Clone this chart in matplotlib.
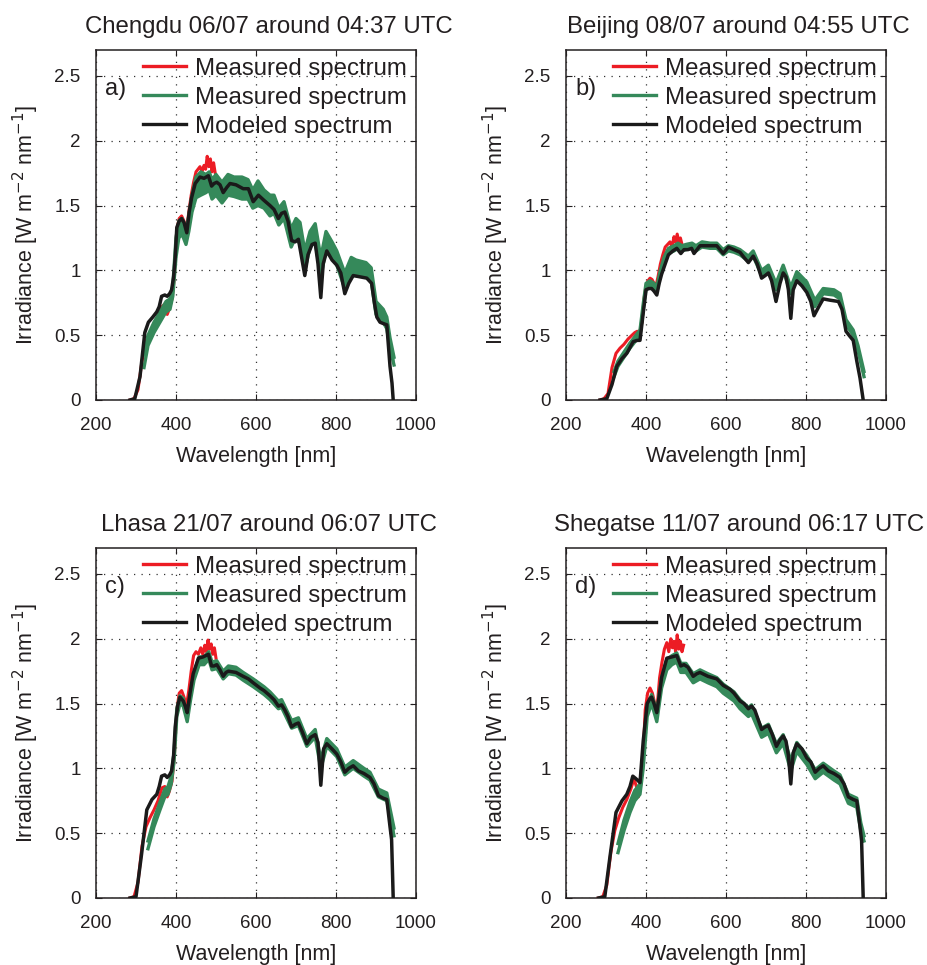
import matplotlib
matplotlib.use("Agg")
import matplotlib.pyplot as plt
from matplotlib.lines import Line2D

plt.rcParams['font.family'] = ['Liberation Sans', 'DejaVu Sans']
TXT = '#231f20'
plt.rcParams['text.color'] = TXT
plt.rcParams['axes.labelcolor'] = TXT
plt.rcParams['xtick.color'] = TXT
plt.rcParams['ytick.color'] = TXT

# ---------------- data ----------------
titles = ["Chengdu 06/07 around 04:37 UTC", "Beijing 08/07 around 04:55 UTC",
          "Lhasa 21/07 around 06:07 UTC", "Shegatse 11/07 around 06:17 UTC"]
panel_labels = ["a)", "b)", "c)", "d)"]
legend_labels = ["Measured spectrum", "Measured spectrum", "Modeled spectrum"]
xticks = [200, 400, 600, 800, 1000]
xtick_labels = ["200", "400", "600", "800", "1000"]
yticks = [0, 0.5, 1, 1.5, 2, 2.5]
ytick_labels = ["0", "0.5", "1", "1.5", "2", "2.5"]

# Panel a (Chengdu)
wl_a_mod = [285, 297, 310, 322, 331, 342, 352, 358, 364, 372, 378, 384, 389, 394, 398, 402, 408, 414, 420, 427,
            433, 439, 448, 460, 470, 481, 489, 495, 502, 510, 518, 527, 535, 550, 568, 581, 593, 606, 620, 635,
            645, 656, 664, 672, 680, 689, 698, 706, 714, 722, 730, 740, 748, 755, 762, 768, 777, 790, 802, 812,
            822, 832, 843, 860, 877, 889, 896, 902, 910, 918, 927, 935, 940, 943]
mod_a = [0, 0.01, 0.18, 0.52, 0.60, 0.64, 0.68, 0.72, 0.80, 0.81, 0.80, 0.82, 0.85, 0.95, 1.10, 1.33, 1.38, 1.40, 1.37, 1.29,
         1.45, 1.56, 1.67, 1.72, 1.71, 1.73, 1.65, 1.67, 1.68, 1.66, 1.60, 1.64, 1.67, 1.66, 1.63, 1.63, 1.53, 1.58, 1.54, 1.50,
         1.47, 1.40, 1.44, 1.45, 1.38, 1.23, 1.22, 1.24, 1.10, 0.96, 1.12, 1.20, 1.21, 1.05, 0.79, 1.05, 1.15, 1.08, 1.04, 0.98,
         0.82, 0.90, 0.96, 0.95, 0.94, 0.90, 0.75, 0.64, 0.60, 0.59, 0.58, 0.26, 0.13, 0]
wl_a_grn = [320, 330, 345, 360, 375, 385, 392, 400, 407, 415, 425, 432, 440, 450, 462, 475, 483, 490, 500, 515,
            530, 545, 565, 580, 592, 605, 620, 635, 645, 657, 670, 688, 700, 710, 722, 735, 748, 762, 775, 790,
            802, 822, 838, 850, 875, 888, 900, 918, 927, 935, 945]
grn_a_lo = [0.25, 0.42, 0.52, 0.60, 0.68, 0.70, 0.80, 1.10, 1.25, 1.28, 1.20, 1.30, 1.45, 1.56, 1.58, 1.60, 1.62, 1.55, 1.58, 1.52,
            1.58, 1.57, 1.55, 1.55, 1.48, 1.50, 1.48, 1.42, 1.44, 1.35, 1.40, 1.18, 1.26, 1.20, 1.00, 1.18, 1.22, 0.95, 1.16, 1.10,
            1.04, 0.86, 0.96, 0.96, 0.95, 0.92, 0.66, 0.60, 0.55, 0.40, 0.27]
grn_a_hi = [0.35, 0.50, 0.60, 0.68, 0.76, 0.78, 0.88, 1.25, 1.38, 1.40, 1.30, 1.42, 1.58, 1.72, 1.76, 1.74, 1.76, 1.70, 1.74, 1.68,
            1.74, 1.72, 1.72, 1.70, 1.62, 1.69, 1.62, 1.58, 1.58, 1.48, 1.53, 1.32, 1.40, 1.37, 1.15, 1.30, 1.36, 1.10, 1.30, 1.22,
            1.15, 0.98, 1.10, 1.08, 1.06, 1.02, 0.76, 0.70, 0.64, 0.48, 0.33]
wl_a_red = [285, 295, 305, 315, 325, 335, 345, 355, 365, 372, 378, 383, 390, 396, 402, 408, 414, 420, 426, 432,
            438, 444, 450, 455, 460, 465, 470, 474, 478, 482, 486, 490, 494, 498, 502]
red_a = [0, 0.01, 0.08, 0.30, 0.45, 0.52, 0.58, 0.63, 0.72, 0.74, 0.66, 0.70, 0.78, 0.95, 1.32, 1.40, 1.42, 1.38, 1.30, 1.45,
         1.58, 1.68, 1.76, 1.78, 1.80, 1.76, 1.81, 1.78, 1.88, 1.80, 1.86, 1.76, 1.83, 1.75, 1.72]

# Panel b (Beijing)
wl_b_mod = [285, 302, 315, 327, 340, 352, 368, 378, 385, 393, 400, 407, 414, 420, 427, 433, 439, 448, 456, 467,
            477, 487, 495, 505, 514, 520, 535, 555, 577, 593, 606, 620, 635, 645, 656, 668, 678, 689, 698, 706,
            714, 725, 735, 743, 750, 756, 762, 768, 777, 790, 802, 812, 820, 832, 843, 860, 881, 890, 900, 910,
            918, 927, 935, 943]
mod_b = [0, 0.01, 0.12, 0.26, 0.32, 0.36, 0.45, 0.46, 0.46, 0.67, 0.85, 0.86, 0.86, 0.84, 0.81, 0.90, 0.97, 1.05, 1.12, 1.15,
         1.17, 1.13, 1.16, 1.16, 1.17, 1.13, 1.19, 1.19, 1.19, 1.13, 1.18, 1.16, 1.14, 1.10, 1.06, 1.11, 1.05, 0.94, 0.96, 0.98,
         0.92, 0.76, 0.90, 0.98, 0.95, 0.85, 0.63, 0.85, 0.92, 0.88, 0.83, 0.76, 0.65, 0.72, 0.78, 0.77, 0.76, 0.70, 0.53, 0.49,
         0.46, 0.30, 0.17, 0]
wl_b_grn = [320, 330, 345, 360, 375, 385, 393, 400, 410, 420, 427, 435, 445, 456, 470, 480, 490, 500, 515, 525,
            540, 560, 577, 593, 606, 620, 635, 656, 668, 689, 706, 725, 743, 762, 777, 802, 822, 843, 870, 885,
            900, 918, 930, 945]
grn_b_lo = [0.18, 0.26, 0.33, 0.40, 0.46, 0.50, 0.70, 0.85, 0.88, 0.86, 0.83, 0.95, 1.06, 1.13, 1.15, 1.17, 1.15, 1.16, 1.17, 1.15,
            1.18, 1.17, 1.17, 1.12, 1.15, 1.14, 1.12, 1.07, 1.11, 0.96, 1.00, 0.85, 1.00, 0.82, 0.95, 0.87, 0.72, 0.82, 0.81, 0.78,
            0.58, 0.50, 0.38, 0.18]
grn_b_hi = [0.22, 0.30, 0.37, 0.44, 0.50, 0.54, 0.74, 0.90, 0.92, 0.90, 0.87, 0.99, 1.10, 1.17, 1.19, 1.21, 1.19, 1.20, 1.21, 1.19,
            1.22, 1.21, 1.21, 1.16, 1.19, 1.18, 1.16, 1.11, 1.15, 1.00, 1.04, 0.90, 1.04, 0.87, 0.99, 0.91, 0.77, 0.86, 0.85, 0.82,
            0.62, 0.54, 0.42, 0.22]
wl_b_red = [285, 295, 305, 315, 325, 335, 345, 355, 365, 372, 378, 384, 390, 395, 400, 405, 410, 415, 420, 425,
            430, 436, 442, 448, 454, 460, 465, 470, 474, 478, 482, 486, 490]
red_b = [0, 0.01, 0.05, 0.25, 0.36, 0.40, 0.43, 0.47, 0.50, 0.52, 0.53, 0.52, 0.60, 0.78, 0.88, 0.92, 0.94, 0.93, 0.90, 0.88,
         0.95, 1.05, 1.12, 1.18, 1.20, 1.22, 1.18, 1.26, 1.22, 1.28, 1.22, 1.25, 1.20]

# Panel c (Lhasa)
wl_c_mod = [285, 300, 314, 327, 340, 352, 358, 364, 372, 378, 384, 389, 394, 398, 404, 410, 418, 423, 428, 435,
            443, 456, 468, 481, 489, 495, 502, 510, 518, 525, 531, 550, 568, 581, 593, 610, 620, 635, 645, 656,
            664, 672, 680, 689, 698, 706, 716, 727, 737, 748, 755, 762, 769, 777, 790, 802, 812, 822, 832, 843,
            856, 870, 885, 895, 906, 918, 927, 935, 939, 943]
mod_c = [0, 0.01, 0.34, 0.68, 0.76, 0.80, 0.86, 0.94, 0.95, 0.93, 0.95, 0.98, 1.10, 1.32, 1.48, 1.55, 1.52, 1.48, 1.43, 1.58,
         1.73, 1.85, 1.86, 1.88, 1.79, 1.79, 1.80, 1.76, 1.71, 1.74, 1.75, 1.74, 1.71, 1.69, 1.66, 1.62, 1.60, 1.56, 1.53, 1.48,
         1.49, 1.45, 1.40, 1.32, 1.34, 1.35, 1.28, 1.19, 1.24, 1.26, 1.20, 0.87, 1.15, 1.19, 1.15, 1.11, 1.05, 0.97, 1.00, 1.02,
         0.98, 0.96, 0.93, 0.88, 0.79, 0.77, 0.76, 0.55, 0.45, 0]
wl_c_grn = [330, 345, 360, 372, 380, 388, 395, 402, 410, 418, 428, 436, 445, 458, 470, 482, 490, 502, 518, 531,
            550, 568, 593, 620, 635, 656, 664, 689, 706, 727, 748, 762, 777, 802, 822, 843, 870, 885, 906, 927,
            937, 945]
grn_c_lo = [0.38, 0.55, 0.68, 0.78, 0.80, 0.88, 1.05, 1.40, 1.50, 1.48, 1.36, 1.52, 1.68, 1.80, 1.80, 1.84, 1.76, 1.77, 1.69, 1.73,
            1.72, 1.68, 1.63, 1.57, 1.53, 1.46, 1.47, 1.31, 1.33, 1.17, 1.24, 1.00, 1.17, 1.09, 0.95, 1.00, 0.94, 0.91, 0.78, 0.75,
            0.60, 0.48]
grn_c_hi = [0.44, 0.61, 0.74, 0.84, 0.86, 0.94, 1.12, 1.46, 1.56, 1.54, 1.42, 1.58, 1.74, 1.86, 1.86, 1.90, 1.82, 1.83, 1.75, 1.79,
            1.78, 1.74, 1.69, 1.63, 1.59, 1.52, 1.53, 1.37, 1.39, 1.23, 1.30, 1.07, 1.23, 1.15, 1.01, 1.06, 1.00, 0.97, 0.84, 0.81,
            0.66, 0.54]
wl_c_red = [285, 295, 305, 315, 325, 335, 345, 355, 365, 372, 378, 383, 390, 396, 402, 408, 414, 420, 426, 432,
            438, 444, 450, 456, 462, 467, 472, 476, 480, 484, 488, 492, 496, 500]
red_c = [0, 0.01, 0.12, 0.40, 0.55, 0.62, 0.68, 0.75, 0.85, 0.86, 0.78, 0.82, 0.90, 1.10, 1.45, 1.58, 1.60, 1.55, 1.48, 1.60,
         1.75, 1.87, 1.90, 1.88, 1.93, 1.88, 1.95, 1.90, 1.99, 1.92, 1.96, 1.88, 1.93, 1.85]

# Panel d (Shegatse)
wl_d_mod = [281, 297, 310, 325, 340, 352, 360, 367, 375, 385, 393, 403, 410, 414, 420, 427, 433, 439, 452, 465,
            477, 487, 495, 505, 518, 527, 535, 555, 577, 593, 610, 620, 635, 645, 656, 664, 672, 680, 689, 698,
            706, 716, 726, 735, 743, 750, 756, 762, 768, 777, 790, 802, 812, 823, 833, 843, 856, 870, 885, 895,
            906, 918, 927, 935, 939, 943]
mod_d = [0, 0.01, 0.32, 0.66, 0.75, 0.80, 0.86, 0.94, 0.92, 0.89, 1.21, 1.50, 1.54, 1.55, 1.50, 1.43, 1.56, 1.70, 1.85, 1.86,
         1.87, 1.79, 1.80, 1.78, 1.71, 1.73, 1.74, 1.71, 1.69, 1.64, 1.61, 1.58, 1.52, 1.50, 1.46, 1.48, 1.45, 1.38, 1.30, 1.32,
         1.33, 1.26, 1.17, 1.22, 1.25, 1.21, 1.10, 0.88, 1.12, 1.19, 1.15, 1.08, 1.05, 0.97, 1.00, 1.02, 0.98, 0.96, 0.93, 0.88,
         0.78, 0.76, 0.75, 0.55, 0.44, 0]
wl_d_grn = [330, 345, 360, 372, 385, 393, 403, 414, 427, 439, 452, 465, 477, 487, 500, 518, 535, 555, 577, 593,
            620, 635, 656, 664, 689, 706, 726, 743, 762, 777, 802, 823, 843, 870, 885, 906, 927, 937, 945]
grn_d_lo = [0.35, 0.52, 0.66, 0.75, 0.80, 1.00, 1.40, 1.50, 1.36, 1.62, 1.76, 1.80, 1.82, 1.74, 1.74, 1.66, 1.69, 1.66, 1.63, 1.58,
            1.52, 1.46, 1.40, 1.42, 1.24, 1.27, 1.12, 1.19, 0.98, 1.13, 1.03, 0.92, 0.97, 0.91, 0.88, 0.73, 0.70, 0.52, 0.44]
grn_d_hi = [0.42, 0.60, 0.74, 0.83, 0.88, 1.10, 1.48, 1.57, 1.44, 1.70, 1.84, 1.87, 1.89, 1.81, 1.81, 1.73, 1.76, 1.73, 1.70, 1.65,
            1.59, 1.53, 1.47, 1.49, 1.31, 1.34, 1.19, 1.26, 1.06, 1.20, 1.10, 0.99, 1.04, 0.98, 0.95, 0.80, 0.77, 0.58, 0.48]
wl_d_red = [281, 292, 302, 312, 322, 332, 342, 352, 362, 370, 376, 381, 386, 392, 398, 404, 410, 416, 422, 428,
            434, 440, 446, 452, 457, 462, 466, 470, 474, 478, 482, 486, 490, 494]
red_d = [0, 0.01, 0.10, 0.35, 0.52, 0.62, 0.70, 0.76, 0.84, 0.92, 0.86, 0.78, 0.85, 1.05, 1.45, 1.58, 1.62, 1.58, 1.50, 1.48,
         1.70, 1.82, 1.92, 1.97, 1.90, 2.00, 1.93, 1.98, 1.90, 2.03, 1.92, 1.98, 1.90, 1.95]

panels = [
    (wl_a_red, red_a, wl_a_grn, grn_a_lo, grn_a_hi, wl_a_mod, mod_a),
    (wl_b_red, red_b, wl_b_grn, grn_b_lo, grn_b_hi, wl_b_mod, mod_b),
    (wl_c_red, red_c, wl_c_grn, grn_c_lo, grn_c_hi, wl_c_mod, mod_c),
    (wl_d_red, red_d, wl_d_grn, grn_d_lo, grn_d_hi, wl_d_mod, mod_d),
]

RED = '#ec1c24'
GREEN = '#35895a'
BLACK = '#1a1a1a'

W, H = 928, 965
fig = plt.figure(figsize=(W / 100, H / 100), dpi=100)

# axes boxes in pixels: (left, top)
boxes = [(96, 50), (566, 50), (96, 548), (566, 548)]
aw, ah = 320, 350

for i, (left, top) in enumerate(boxes):
    ax = fig.add_axes([left / W, (H - top - ah) / H, aw / W, ah / H])
    wr, r, wg, glo, ghi, wm, m = panels[i]
    assert len(wr) == len(r) and len(wg) == len(glo) == len(ghi) and len(wm) == len(m)
    ax.plot(wr, r, color=RED, lw=2.2, zorder=3, solid_joinstyle='round')
    ax.fill_between(wg, glo, ghi, color=GREEN, lw=0, zorder=4)
    ax.plot(wg, glo, color=GREEN, lw=2.4, zorder=4, solid_joinstyle='round')
    ax.plot(wg, ghi, color=GREEN, lw=2.4, zorder=4, solid_joinstyle='round')
    ax.plot(wm, m, color=BLACK, lw=2.5, zorder=5, solid_joinstyle='round')

    ax.set_xlim(200, 1000)
    ax.set_ylim(0, 2.7)
    ax.set_xticks(xticks)
    ax.set_xticklabels(xtick_labels)
    ax.set_yticks(yticks)
    ax.set_yticklabels(ytick_labels)
    ax.tick_params(direction='in', top=True, right=True, length=4, width=0.8,
                   labelsize=13.5)
    ax.tick_params(axis='x', pad=12)
    ax.tick_params(axis='y', pad=11)
    ax.grid(True, color='#333333', linestyle=(0, (1, 5)), lw=0.9)
    for s in ax.spines.values():
        s.set_linewidth(1.1)
        s.set_color('#231f20')
    ax.set_xlabel("Wavelength [nm]", fontsize=15.5, labelpad=9)
    ax.set_ylabel(r"Irradiance [W m$^{-2}$ nm$^{-1}$]", fontsize=15.5, labelpad=10)
    ax.text(0.54, 1.049, titles[i], transform=ax.transAxes, ha='center', va='baseline',
            fontsize=17.3)
    ax.text(0.028, 0.871, panel_labels[i], transform=ax.transAxes, ha='left', va='baseline',
            fontsize=17)
    handles = [Line2D([], [], color=RED, lw=2.4), Line2D([], [], color=GREEN, lw=2.4),
               Line2D([], [], color=BLACK, lw=2.4)]
    ax.legend(handles, legend_labels, loc='upper left', bbox_to_anchor=(0.147, 0.978),
              frameon=False, fontsize=17.3, borderpad=0, borderaxespad=0,
              handlelength=1.8, handletextpad=0.35, labelspacing=0.29)

fig.savefig("out.png", dpi=100)
